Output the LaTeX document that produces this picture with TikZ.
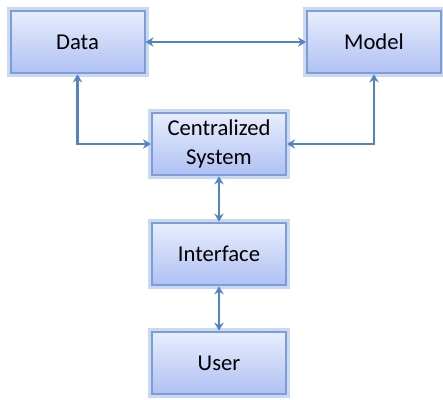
\documentclass[tikz,border=0pt]{standalone}
\usepackage{fontspec}
\setmainfont{Carlito}
\usetikzlibrary{arrows.meta,shadings}

\definecolor{boxline}{HTML}{7C9ED6}
\definecolor{boxglow}{HTML}{CBD8F2}
\definecolor{boxtop}{HTML}{E8EEFD}
\definecolor{boxbottom}{HTML}{AFC0F3}
\definecolor{link}{HTML}{5482C2}

\begin{document}
\begin{tikzpicture}[
  x=0.75pt, y=-0.75pt,
  block/.style     = {draw=boxline, line width=1.5pt, top color=boxtop,
                      bottom color=boxbottom, inner sep=2pt,
                      minimum width=100.5pt, minimum height=47pt,
                      align=center, font=\fontsize{17}{21.75}\selectfont,
                      preaction={draw=boxglow, line width=6pt}},
  link/.style      = {draw=link, line width=2.2pt,
                      {Stealth[length=6pt,width=7pt]}-{Stealth[length=6pt,width=7pt]}},
]
  \useasboundingbox (0,0) rectangle (443,400);

  \node[block] (data) at (77.5,42) {Data};
  \node[block] (model) at (374,42) {Model};
  \node[block] (central) at (219,144) {Centralized\\System};
  \node[block] (iface) at (219,254) {Interface};
  \node[block] (user) at (219,363) {User};

  \draw[link] (data) -- (model);
  \draw[link] (data.south) |- (central.west);
  \draw[link] (model.south) |- (central.east);
  \draw[link] (central) -- (iface);
  \draw[link] (iface) -- (user);
\end{tikzpicture}
\end{document}
